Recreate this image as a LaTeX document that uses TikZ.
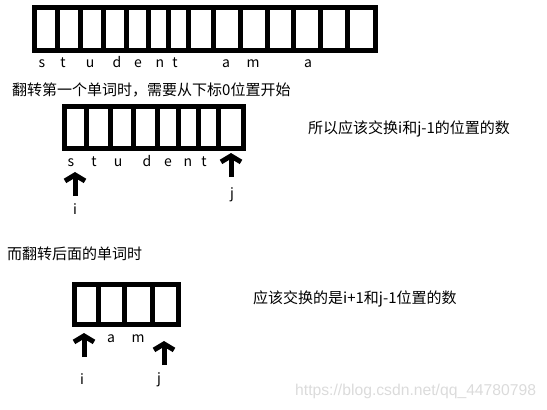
\documentclass[tikz,border=0pt]{standalone}
\usepackage{fontspec}
\setmainfont{Noto Sans CJK SC}
\newfontfamily\wmfont{Liberation Sans}
\usetikzlibrary{arrows.meta}

\tikzset{
  cellline/.style={line width=5pt},
  glyph/.style={inner sep=0pt, anchor=base, font=\fontsize{14}{14}\selectfont},
  remark/.style={inner sep=0pt, anchor=base west, font=\fontsize{15}{17}\selectfont},
  pointer/.style={line width=5pt, -{Straight Barb[length=6pt,width=20pt]}},
}

\begin{document}
\begin{tikzpicture}[x=1pt, y=-1pt]
  \useasboundingbox (0,0) rectangle (547,410);

  % whole sentence
  \draw[cellline] (34,7.5) rectangle (375,50);
  \foreach \x in {57,80,103,126,148,168,188,213,240,267,293,320,347}
    \draw[cellline] (\x,7.5) -- (\x,50);
  \foreach \c/\x in {s/42,t/63,u/90,d/117,e/138,n/160,t/175,a/226,m/253,a/308}
    \node[glyph] at (\x,67) {\c};

  \node[remark] (first) at (12,95) {翻转第一个单词时，需要从下标0位置开始};

  % first word
  \draw[cellline] (64,106) rectangle (243,148);
  \foreach \x in {86,110,133,157,178,198,218}
    \draw[cellline] (\x,106) -- (\x,148);
  \foreach \c/\x in {s/71,t/94,u/118,d/147,e/168,n/188,t/204}
    \node[glyph] at (\x,166) {\c};

  \node[glyph] (i1) at (75,214) {i};
  \node[glyph] (j1) at (232,198) {j};
  \coordinate (i1 tail) at (75,196);
  \coordinate (i1 tip) at (75,172);
  \coordinate (j1 tail) at (231,177);
  \coordinate (j1 tip) at (231,153);
  \draw[pointer] (i1 tail) -- (i1 tip);
  \draw[pointer] (j1 tail) -- (j1 tip);

  \node[remark] (swap1) at (308,133) {所以应该交换i和j-1的位置的数};

  \node[remark] (later) at (7,259) {而翻转后面的单词时};

  % later word
  \draw[cellline] (74,284) rectangle (178,324);
  \foreach \x in {98,124,152}
    \draw[cellline] (\x,284) -- (\x,324);
  \foreach \c/\x in {a/111,m/138}
    \node[glyph] at (\x,342) {\c};

  \node[glyph] (i2) at (82,384) {i};
  \node[glyph] (j2) at (159,383) {j};
  \coordinate (i2 tail) at (84,357);
  \coordinate (i2 tip) at (84,333);
  \coordinate (j2 tail) at (164,365);
  \coordinate (j2 tip) at (164,341);
  \draw[pointer] (i2 tail) -- (i2 tip);
  \draw[pointer] (j2 tail) -- (j2 tip);

  \node[remark] (swap2) at (253,303) {应该交换的是i+1和j-1位置的数};

  \node[remark, text=black!14, font=\wmfont\fontsize{15.7}{17}\selectfont] (mark) at (295,395) {https://blog.csdn.net/qq\_44780798};
\end{tikzpicture}
\end{document}
